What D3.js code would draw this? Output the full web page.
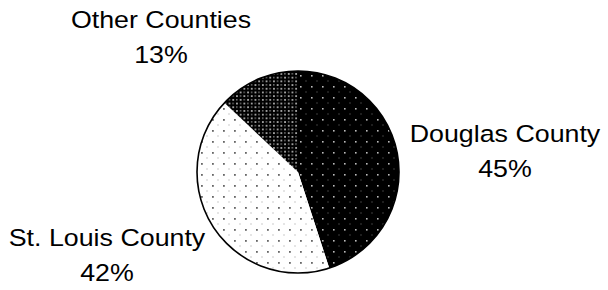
<!DOCTYPE html>
<html>
<head>
<meta charset="utf-8">
<script src="https://cdn.jsdelivr.net/npm/d3@7"></script>
<style>
  body { margin: 0; background: #fff; }
  text { font-family: "Liberation Sans", Arial, sans-serif; fill: #000; }
</style>
</head>
<body>
<div id="chart"></div>
<script>
// data
var categories = ["Douglas County", "St. Louis County", "Other Counties"];
var shares = [45, 42, 13];
var pctLabels = ["45%", "42%", "13%"];

var width = 608, height = 290;
var cx = 298, cy = 172, radius = 101;

// where each label block sits (centre x, first baseline y)
var labelAnchors = [[505, 142], [107, 246], [161, 28]];
var lineGap = 35;

var svg = d3.select("#chart").append("svg")
  .attr("width", width)
  .attr("height", height);

var defs = svg.append("defs");

function dotPattern(id, size, bg, dots) {
  var p = defs.append("pattern")
    .attr("id", id)
    .attr("patternUnits", "userSpaceOnUse")
    .attr("width", size).attr("height", size);
  p.append("rect").attr("width", size).attr("height", size).attr("fill", bg);
  dots.forEach(function(d) {
    p.append("rect")
      .attr("x", d[0]).attr("y", d[1])
      .attr("width", d[2]).attr("height", d[2])
      .attr("fill", d[3]);
  });
}

// Douglas: black with sparse light dots
dotPattern("pat0", 11, "#000", [[2, 2, 1.6, "#bbb"], [7.5, 7.5, 1, "#777"]]);
// St. Louis: white with gray dots
dotPattern("pat1", 11, "#fff", [[2, 2, 1.8, "#666"], [7.5, 7.5, 1, "#999"]]);
// Other: black with dense light dots
dotPattern("pat2", 7.4, "#000", [[1, 1, 1.7, "#bbb"], [4.7, 1, 1.4, "#888"], [1, 4.7, 1.4, "#888"], [4.7, 4.7, 1.7, "#bbb"]]);

var pie = d3.pie()
  .sort(null)
  .value(function(d) { return d; });

var arc = d3.arc()
  .innerRadius(0)
  .outerRadius(radius);

var arcs = pie(shares);

var g = svg.append("g")
  .attr("transform", "translate(" + cx + "," + cy + ")");

g.selectAll(".slice")
  .data(arcs)
  .enter().append("path")
  .attr("class", "slice")
  .attr("d", arc)
  .attr("fill", function(d, i) { return "url(#pat" + i + ")"; })
  .attr("stroke", "none");

// outline
g.append("circle")
  .attr("r", radius)
  .attr("fill", "none")
  .attr("stroke", "#000")
  .attr("stroke-width", 1.6);

// labels
var labels = svg.selectAll(".lbl")
  .data(categories)
  .enter().append("g")
  .attr("class", "lbl")
  .attr("transform", function(d, i) {
    return "translate(" + labelAnchors[i][0] + "," + labelAnchors[i][1] + ") scale(1.14,1)";
  });

labels.append("text")
  .attr("text-anchor", "middle")
  .style("font-size", "23.5px")
  .text(function(d) { return d; });

labels.append("text")
  .attr("text-anchor", "middle")
  .attr("y", lineGap)
  .style("font-size", "23.5px")
  .text(function(d, i) { return pctLabels[i]; });
</script>
</body>
</html>
